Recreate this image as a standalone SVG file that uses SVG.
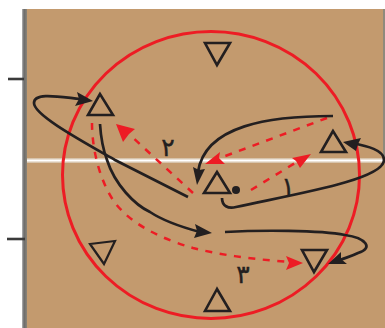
<svg xmlns="http://www.w3.org/2000/svg" width="385" height="328" viewBox="0 0 385 328">
<defs>
<linearGradient id="edge" x1="0" x2="1" y1="0" y2="0"><stop offset="0" stop-color="#b5b5b5"/><stop offset="0.4" stop-color="#6a6a6a"/><stop offset="1" stop-color="#8a8478"/></linearGradient>
<linearGradient id="stripe" x1="0" x2="0" y1="0" y2="1"><stop offset="0" stop-color="#cdb597"/><stop offset="0.5" stop-color="#ffffff"/><stop offset="1" stop-color="#cdb597"/></linearGradient>
</defs>
<style>
.tri{fill:none;stroke:#231f20;stroke-width:2.6}
.blk{fill:none;stroke:#231f20;stroke-width:2.7;stroke-linecap:butt}
.red{fill:none;stroke:#ed1c24;stroke-width:2.5;stroke-dasharray:7 7.500}
.bh{fill:#231f20}
.rh{fill:#ed1c24}
.tick{stroke:#3a3a3a;stroke-width:2.600}
.num{font-family:"DejaVu Sans","Noto Sans",sans-serif;font-size:25px;fill:#231f20;stroke:#231f20;stroke-width:0.400;text-anchor:middle}
</style>
<rect x="27" y="9" width="358" height="319" fill="#c39a6e"/>
<rect x="22" y="9" width="5" height="319" fill="url(#edge)"/>
<rect x="383" y="9" width="2" height="148" fill="#8f8a7c"/>
<rect x="27" y="158" width="358" height="5" fill="url(#stripe)"/>
<line class="tick" x1="8" y1="79" x2="24" y2="79"/>
<line class="tick" x1="7" y1="239" x2="25" y2="239"/>
<ellipse id="circle" cx="211" cy="175" rx="148.500" ry="143.500" fill="none" stroke="#ed1c24" stroke-width="3"/>
<g id="connectors">
<path class="red" d="M251,190 L300,160"/><polygon class="rh" points="311,154 292,158 296,161 300,168"/>
<path class="red" d="M327,118 L220,158"/><polygon class="rh" points="205,164 220,152 219,158 225,164"/>
<path class="red" d="M193,193 L130,135"/><polygon class="rh" points="116,124 135,129 129,134 123,142"/>
<path class="red" d="M92,123 C92,150 100,180 113,200 C130,225 165,240 193,248 C225,256 260,260 292,262"/><polygon class="rh" points="303,263 286,256 289,263 286,270"/>
<path class="blk" d="M222,198 C222,206 228,209 236,207 C290,195 384,180 384,160 C384,150 367,146 352,143"/><polygon class="bh" points="343,142 361,138 358,144 356,151"/>
<path class="blk" d="M333,116 C270,116 205,125 198,172"/><polygon class="bh" points="197,185 193,167 199,170 205,169"/>
<path class="blk" d="M188,197 L115,160 C80,140 34,115 34,103 C34,92 60,97 80,99"/><polygon class="bh" points="93,101 77,92 79,99 75,106"/>
<path class="blk" d="M100,124 C101,140 104,152 107,160 C115,185 135,205 150,212 C165,222 185,228 200,232"/><polygon class="bh" points="212,233 195,224 197,231 194,238"/>
<path class="blk" d="M225,232 C260,230 320,230 345,235 C366,238 374,248 358,253 C352,256 348,257 340,260"/><polygon class="bh" points="328,264 341,252 341,259 347,264"/>
</g>
<g id="n1"><polygon class="tri" points="205,43 230,43 217,65"/></g>
<g id="n2"><polygon class="tri" points="100,94 88,115 113,115"/></g>
<g id="n3"><polygon class="tri" points="217,172 204,193 230,193"/><circle cx="236" cy="190" r="4" fill="#231f20"/></g>
<g id="n4"><polygon class="tri" points="333,131 321,152 346,152"/></g>
<g id="n5"><polygon class="tri" points="302,250 327,250 314,272"/></g>
<g id="n6"><polygon class="tri" points="217,289 205,311 230,311"/></g>
<g id="n7"><polygon class="tri" points="90,244 115,241 104,264" style="stroke-width:2.200"/></g>
<text class="num" x="288" y="195">۱</text>
<text class="num" x="168" y="156">۲</text>
<text class="num" x="243" y="283">۳</text>
</svg>
